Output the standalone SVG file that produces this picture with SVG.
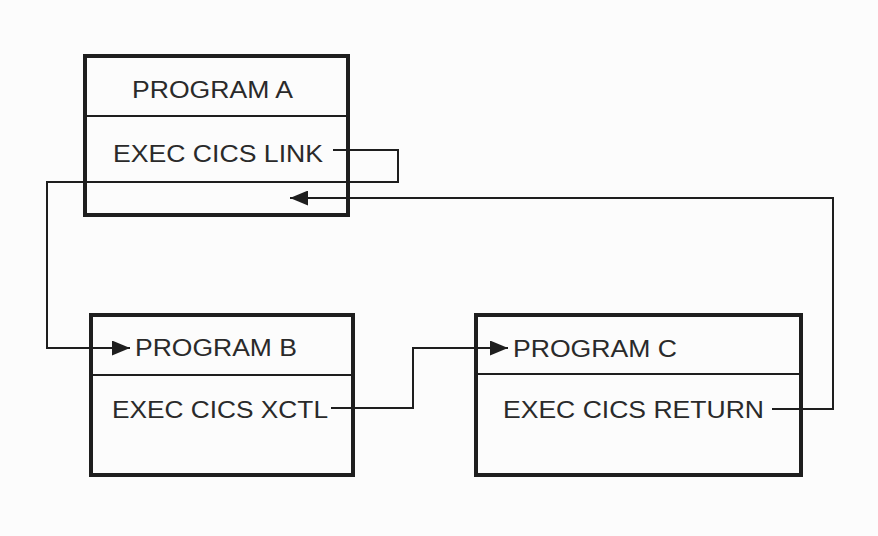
<svg xmlns="http://www.w3.org/2000/svg" width="878" height="536" viewBox="0 0 878 536">
<style>
.box{fill:none;stroke:#1e1e1e;stroke-width:4}
.div{stroke:#1e1e1e;stroke-width:2}
.lbl{font-family:"Liberation Sans",Arial,sans-serif;font-size:23.5px;fill:#2a2a2a}
.conn{fill:none;stroke:#1e1e1e;stroke-width:2}
</style>
<defs>
<marker id="ah" markerUnits="userSpaceOnUse" markerWidth="18" markerHeight="15" refX="18" refY="7.5" orient="auto">
<path d="M0,0 L18,7.5 L0,15 z" fill="#1e1e1e"/>
</marker>
</defs>
<rect width="878" height="536" fill="#fcfcfc"/>
<g id="programA">
<rect class="box" x="85" y="56" width="263" height="159"/>
<line class="div" x1="85" y1="116" x2="348" y2="116"/>
<text class="lbl" x="132" y="98" textLength="161" lengthAdjust="spacingAndGlyphs">PROGRAM A</text>
<text class="lbl" x="113" y="161.5" textLength="210" lengthAdjust="spacingAndGlyphs">EXEC CICS LINK</text>
</g>
<g id="programB">
<rect class="box" x="91" y="315" width="262" height="160"/>
<line class="div" x1="91" y1="375" x2="353" y2="375"/>
<text class="lbl" x="135" y="356" textLength="162" lengthAdjust="spacingAndGlyphs">PROGRAM B</text>
<text class="lbl" x="112" y="418" textLength="216" lengthAdjust="spacingAndGlyphs">EXEC CICS XCTL</text>
</g>
<g id="programC">
<rect class="box" x="476" y="315" width="325" height="160"/>
<line class="div" x1="476" y1="374" x2="801" y2="374"/>
<text class="lbl" x="513" y="357" textLength="164" lengthAdjust="spacingAndGlyphs">PROGRAM C</text>
<text class="lbl" x="503" y="418" textLength="261" lengthAdjust="spacingAndGlyphs">EXEC CICS RETURN</text>
</g>
<g id="connectors">
<path class="conn" d="M333,150 H398 V182 H47 V348 H130" marker-end="url(#ah)"/>
<path class="conn" d="M331,408 H413 V348 H508" marker-end="url(#ah)"/>
<path class="conn" d="M772,409 H833 V198 H290" marker-end="url(#ah)"/>
</g>
</svg>
